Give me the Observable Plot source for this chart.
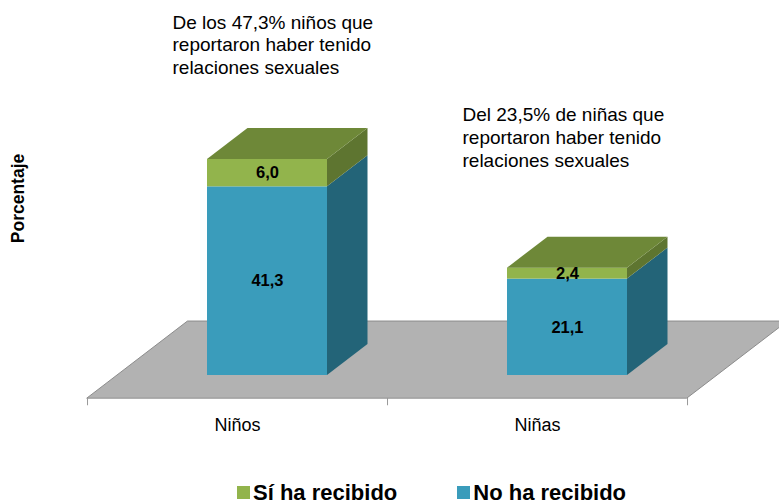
<!DOCTYPE html>
<html>
<head>
<meta charset="utf-8">
<script src="https://cdn.jsdelivr.net/npm/d3@7"></script>
<script src="https://cdn.jsdelivr.net/npm/@observablehq/plot@0.6"></script>
<style>
  html, body { margin: 0; padding: 0; background: #fff; }
  #chart svg { display: block; }
  .legend { display: flex; align-items: center; height: 31px; padding-top: 5px; padding-left: 237px; gap: 60px;
            font: bold 22px "Liberation Sans", Arial, sans-serif; color: #000; }
  .legend .item { display: flex; align-items: center; }
  .legend .sw { width: 13px; height: 13px; margin-right: 3px; display: inline-block; }
</style>
</head>
<body>
<div id="chart"></div>
<script>
// ---- data ----
const categories = ["Niños", "Niñas"];
const seriesNames = ["No ha recibido", "Sí ha recibido"];
const noRecibido = [41.3, 21.1];
const siRecibido = [6.0, 2.4];
const annotations = [
  "De los 47,3% niños que\nreportaron haber tenido\nrelaciones sexuales",
  "Del 23,5% de niñas que\nreportaron haber tenido\nrelaciones sexuales"
];
const legendOrder = ["Sí ha recibido", "No ha recibido"];
const yLabel = "Porcentaje";

// ---- style ----
const frontColor = {"No ha recibido": "#3A9CBB", "Sí ha recibido": "#92B44C"};
const sideColor  = {"No ha recibido": "#236478", "Sí ha recibido": "#5E7530"};
const topColor = "#6E8838";
const barHalf = 0.2, dX = 0.135, dY = 6.79, floorFront = -0.74, floorBack = 1.74;
const annotDx = [-95, -105], annotDy = [-147, -163];
const font = "'Liberation Sans', Arial, sans-serif";
const fmt = v => d3.format(".1f")(v).replace(".", ",");

// ---- build faces from data ----
const fronts = [], sides = [], tops = [], labels = [];
categories.forEach((c, i) => {
  const X = i + 0.5, L = X - barHalf, R = X + barHalf;
  const segs = [
    {s: seriesNames[0], lo: 0, hi: noRecibido[i], v: noRecibido[i]},
    {s: seriesNames[1], lo: noRecibido[i], hi: noRecibido[i] + siRecibido[i], v: siRecibido[i]}
  ];
  segs.forEach(g => {
    const id = c + g.s;
    fronts.push({x1: L, x2: R, y1: g.lo, y2: g.hi, s: g.s});
    sides.push({id, s: g.s, x: R, y1: g.lo, y2: g.hi});
    sides.push({id, s: g.s, x: R + dX, y1: g.lo + dY, y2: g.hi + dY});
    labels.push({x: X, y: (g.lo + g.hi) / 2, t: fmt(g.v)});
  });
  const total = noRecibido[i] + siRecibido[i];
  tops.push({id: c, y: total, x1: L, x2: R});
  tops.push({id: c, y: total + dY, x1: L + dX, x2: R + dX});
});
const floor = [
  {y: floorFront * dY, x1: floorFront * dX, x2: categories.length + floorFront * dX},
  {y: floorBack * dY, x1: floorBack * dX, x2: categories.length + floorBack * dX}
];
const ticks = d3.range(categories.length + 1).map(v => ({x: v + floorFront * dX}));
const catLabels = categories.map((c, i) => ({x: i + 0.5 + floorFront * dX, t: c}));
const annots = categories.map((c, i) => ({x: i + 0.5, y: noRecibido[i] + siRecibido[i], t: annotations[i], dx: annotDx[i], dy: annotDy[i]}));

const plot = Plot.plot({
  width: 779, height: 472,
  marginLeft: 117, marginRight: 62, marginTop: 21, marginBottom: 97,
  x: {domain: [0, categories.length], axis: null},
  y: {domain: [0, 77.5], axis: null},
  style: {fontFamily: font, background: "#fff"},
  marks: [
    Plot.areaX(floor, {y: "y", x1: "x1", x2: "x2", fill: "#B2B2B2", stroke: "#8C8C8C", strokeWidth: 1}),
    Plot.ruleX(ticks, {x: "x", y1: floorFront * dY, y2: floorFront * dY - 1.6, stroke: "#999"}),
    Plot.areaY(sides, {x: "x", y1: "y1", y2: "y2", z: "id", fill: d => sideColor[d.s]}),
    Plot.rect(fronts, {x1: "x1", x2: "x2", y1: "y1", y2: "y2", fill: d => frontColor[d.s]}),
    Plot.areaX(tops, {y: "y", x1: "x1", x2: "x2", z: "id", fill: topColor}),
    Plot.text(labels, {x: "x", y: "y", text: "t", fontWeight: "bold", fontSize: 16.5, fill: "#000"}),
    Plot.text(catLabels, {x: "x", y: floorFront * dY, text: "t", dy: 27, fontSize: 18, fill: "#000"}),
    ...annots.map(a => Plot.text([a], {x: "x", y: "y", text: "t", dx: a.dx, dy: a.dy, textAnchor: "start", lineAnchor: "top", lineHeight: 1.2, fontSize: 19, fill: "#000"})),
    Plot.text([yLabel], {frameAnchor: "left", dx: -99, rotate: -90, textAnchor: "middle", fontWeight: "bold", fontSize: 17.5, fill: "#000"})
  ]
});
document.getElementById("chart").appendChild(plot);

// legend
const leg = document.createElement("div");
leg.className = "legend";
legendOrder.forEach(s => {
  const it = document.createElement("div");
  it.className = "item";
  const sw = document.createElement("span");
  sw.className = "sw";
  sw.style.background = frontColor[s];
  it.appendChild(sw);
  it.appendChild(document.createTextNode(s));
  leg.appendChild(it);
});
document.getElementById("chart").appendChild(leg);
</script>
</body>
</html>
